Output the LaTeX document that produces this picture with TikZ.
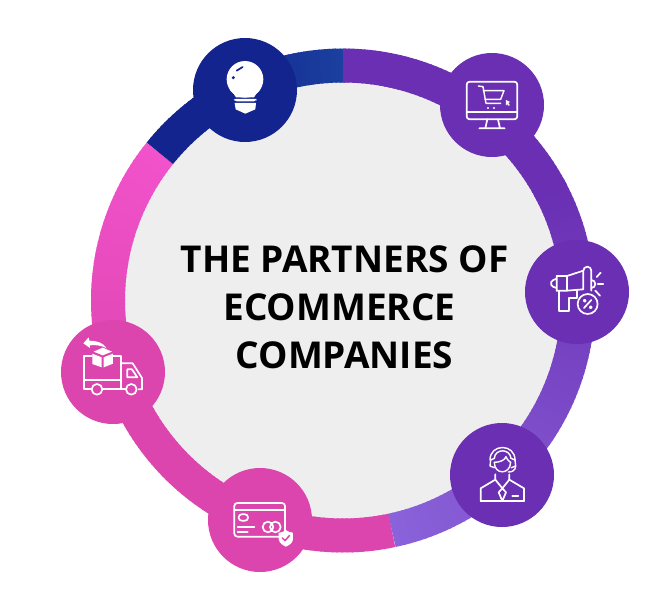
\documentclass[tikz,border=0pt]{standalone}
\usepackage{fontspec}
\setmainfont{Open Sans}
\definecolor{cpurple}{HTML}{6A2FB3}
\definecolor{clav}{HTML}{8A62DA}
\definecolor{cpink}{HTML}{DC45AE}
\definecolor{cpinkb}{HTML}{F252CB}
\definecolor{cblue}{HTML}{14248F}
\definecolor{cblueb}{HTML}{1B419F}
\definecolor{cgrey}{HTML}{EEEEEE}
\tikzset{
  badge/.style={circle,draw=none,minimum size=104pt,inner sep=0pt},
  ico/.style={draw=white,line width=1.7pt,line cap=round,line join=round},
  title/.style={align=center,font=\fontsize{37}{48}\selectfont\bfseries,text=black,inner sep=0pt}
}
\begin{document}
\begin{tikzpicture}[x=1pt,y=-1pt]
\useasboundingbox (0,0) rectangle (657,603);
\fill[white] (0,0) rectangle (657,603);
\coordinate (c) at (343,300.5);
\fill[cgrey] (c) circle[radius=220];
% ring segments (angles flipped because y points down); later colours overlap earlier ones
\foreach \a in {78,79.2,...,217.5}{
  \pgfmathsetmacro\p{min(100,max(0,(\a-150)/68*100))}
  \draw[cpinkb!\p!cpink,line width=34pt] ([shift={(\a:235)}]c) arc[start angle=\a,delta angle=1.6,radius=235];
}
\foreach \a in {218.8,220,...,269.5}{
  \pgfmathsetmacro\p{min(100,max(0,(\a-240)/30*100))}
  \draw[cblueb!\p!cblue,line width=34pt] ([shift={(\a:235)}]c) arc[start angle=\a,delta angle=1.6,radius=235];
}
\foreach \a in {-90,-88.8,...,-28}{
  \draw[cpurple,line width=34pt] ([shift={(\a:235)}]c) arc[start angle=\a,delta angle=1.6,radius=235];
}
\foreach \a in {-29,-27.8,...,76.6}{
  \pgfmathsetmacro\p{min(100,max(0,(\a+29)/106*100))}
  \draw[clav!\p!cpurple,line width=34pt] ([shift={(\a:235)}]c) arc[start angle=\a,delta angle={min(1.6,78-\a)},radius=235];
}
% badges
\node[badge,fill=cblue] (bulb) at (245,90) {};
\node[badge,fill=cpurple] (cart) at (492,105) {};
\node[badge,fill=cpurple] (mega) at (577,292) {};
\node[badge,fill=cpurple] (agent) at (502,475) {};
\node[badge,fill=cpink] (card) at (260,520) {};
\node[badge,fill=cpink] (truck) at (113,372) {};
\node[title] (ttl) at (344.5,307) {THE PARTNERS OF\\\hspace*{-10pt}ECOMMERCE\\COMPANIES};
% bulb icon
\begin{scope}[shift={(180,20)},x=0.3333pt,y=-0.3333pt]
  \fill[white] (195,178) circle[radius=55];
  \fill[white] (150,210) .. controls (160,220) and (165,225) .. (168,232) -- (222,232) .. controls (225,225) and (230,220) .. (240,210) -- cycle;
  \fill[white,rounded corners=2pt] (160,237) -- (232,237) -- (228,244) -- (164,244) -- cycle;
  \fill[white] (164,249) -- (228,249) -- (226,268) -- (196,281) -- (167,268) -- cycle;
  \draw[cblue,line width=1.7pt,line cap=round] (170,152) -- (188,141);
  \fill[cblue] (160,173) circle[radius=5];
\end{scope}
% cart icon
\begin{scope}[shift={(430,40)},x=0.3333pt,y=-0.3333pt]
  \draw[ico,rounded corners=3pt] (110,125) rectangle (262,238);
  \draw[ico] (110,217) -- (262,217);
  \draw[ico] (172,238) -- (166,265) (204,238) -- (210,265) (148,265) -- (224,265);
  \draw[ico,line width=1.4pt] (145,138) -- (159,140) -- (168,190) -- (212,190);
  \draw[ico,line width=1.4pt] (160,152) -- (222,152) -- (212,178) -- (165,178);
  \fill[white] (174,204) circle[radius=3.5] (192,204) circle[radius=3.5];
  \fill[white] (228,180) -- (240,186) -- (235,189) -- (240,196) -- (234,197) -- (232,192) -- (228,196) -- cycle;
\end{scope}
% megaphone icon
\begin{scope}[shift={(515,230)},x=0.3333pt,y=-0.3333pt]
  \draw[ico] (125,138) -- (156,138) -- (205,122)
     arc[start angle=180,end angle=360,radius=12] -- (229,182);
  \draw[ico] (205,122) -- (205,178) -- (156,182) -- (125,182);
  \draw[ico] (125,138) -- (125,182) (125,146) -- (115,150) arc[start angle=250,end angle=110,radius=11] -- (125,174);
  \draw[ico] (156,138) -- (156,182);
  \draw[ico] (133,182) -- (133,242) -- (162,242) -- (162,205) -- (186,205) -- (186,182);
  \draw[ico] (229,150) arc[start angle=-90,end angle=90,radius=12];
  \draw[ico,fill=cpurple] (218,222) circle[radius=30];
  \draw[ico] (207,234) -- (229,210);
  \draw[ico] (209,212) circle[radius=3] (227,232) circle[radius=3];
  \draw[ico] (245,141) -- (257,128) (248,162) -- (265,162) (241,182) -- (255,197);
\end{scope}
% agent icon
\begin{scope}[shift={(440,405)},x=0.3333pt,y=-0.3333pt]
  \draw[ico,line width=1.4pt] (163,172) .. controls (163,210) and (210,210) .. (212,172);
  \draw[ico,line width=1.4pt] (163,172) .. controls (180,172) and (195,165) .. (198,155) .. controls (202,165) and (208,170) .. (212,172);
  \draw[ico,line width=1.4pt] (150,165) .. controls (150,115) and (225,115) .. (225,165);
  \draw[ico,line width=1.4pt] (163,160) .. controls (165,130) and (210,130) .. (213,160);
  \draw[ico,line width=1.4pt] (163,160) -- (152,165) -- (150,183) -- (163,188);
  \draw[ico,line width=1.4pt] (213,160) -- (225,165) -- (227,183) -- (214,188);
  \draw[ico,line width=1.4pt] (227,183) .. controls (226,198) and (215,201) .. (205,201);
  \draw[ico] (122,288) -- (122,250) -- (166,224) -- (166,208);
  \draw[ico] (252,288) -- (252,250) -- (208,224) -- (208,208);
  \draw[ico] (122,288) -- (252,288);
  \draw[ico] (166,224) -- (187,250) -- (208,224);
  \draw[ico] (187,250) -- (176,262) -- (187,288) -- (198,262) -- cycle;
  \draw[ico] (217,273) -- (235,273);
\end{scope}
% card icon
\begin{scope}[shift={(195,460)},x=0.3333pt,y=-0.3333pt]
  \draw[ico,rounded corners=3pt] (118,129) rectangle (270,230);
  \draw[ico] (118,150) -- (270,150);
  \draw[ico,rounded corners=3pt] (131,163) rectangle (159,182);
  \draw[ico] (128,202) -- (178,202) (128,215) -- (158,215);
  \draw[ico] (219,201) circle[radius=16] (241,201) circle[radius=16];
  \fill[white] (272,210) .. controls (262,218) and (256,218) .. (251,218) -- (251,238) .. controls (253,250) and (265,256) .. (272,260) .. controls (282,256) and (293,250) .. (294,238) -- (294,218) .. controls (288,218) and (280,216) .. (272,210) -- cycle;
  \draw[cpink,line width=1.5pt,line cap=round,line join=round] (262,234) -- (270,242) -- (284,226);
\end{scope}
% truck icon
\begin{scope}[shift={(50,310)},x=0.3333pt,y=-0.3333pt]
  \draw[ico] (126,137) -- (102,137) -- (102,238) -- (122,238);
  \draw[ico] (189,137) -- (214,137) -- (214,238);
  \draw[ico] (102,211) -- (214,211);
  \draw[ico] (160,238) -- (226,238);
  \draw[ico] (214,160) -- (248,160) -- (276,204) -- (276,238) -- (266,238);
  \draw[ico] (232,178) -- (232,202) -- (262,202) -- (246,178) -- cycle;
  \draw[ico] (141,238) circle[radius=16] (244,238) circle[radius=16];
  \fill[white] (158,113) -- (186,125) -- (158,136) -- (131,125) -- cycle;
  \fill[white] (127,131) -- (155,142) -- (155,172) -- (127,162) -- cycle;
  \fill[white] (161,142) -- (189,131) -- (189,161) -- (161,172) -- cycle;
  \fill[white] (100,100) -- (116,82) -- (118,92) .. controls (140,92) and (160,98) .. (170,115) .. controls (155,106) and (135,104) .. (120,106) -- (120,114) -- cycle;
\end{scope}
\end{tikzpicture}
\end{document}
